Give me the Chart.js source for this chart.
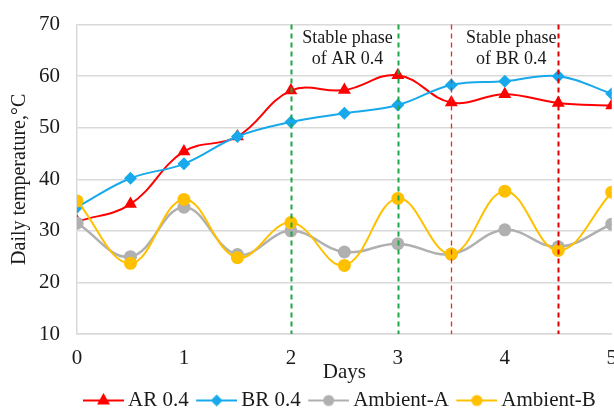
<!DOCTYPE html>
<html>
<head>
<meta charset="utf-8">
<script src="https://cdn.jsdelivr.net/npm/chart.js@4.4.1/dist/chart.umd.min.js"></script>
<style>
html, body { margin: 0; padding: 0; background: #fff; overflow: hidden; }
#wrap { width: 629px; height: 415px; margin-top: -5px; position: relative; }
</style>
</head>
<body>
<div id="wrap"><canvas id="tempChart"></canvas></div>
<script>
// values
var days = [0, 0.5, 1, 1.5, 2, 2.5, 3, 3.5, 4, 4.5, 5];
var ar04 = [31.8, 35.2, 45.4, 48.3, 57.2, 57.3, 60.2, 54.9, 56.5, 54.8, 54.3];
var br04 = [34.6, 40.2, 43.0, 48.3, 51.1, 52.8, 54.4, 58.3, 59.0, 60.0, 56.6];
var ambientA = [31.5, 25.0, 34.6, 25.4, 30.0, 25.9, 27.5, 25.5, 30.2, 26.9, 31.3];
var ambientB = [35.8, 23.7, 36.1, 24.8, 31.6, 23.3, 36.3, 25.5, 37.7, 26.2, 37.5];
var seriesNames = ['AR 0.4', 'BR 0.4', 'Ambient-A', 'Ambient-B'];
var yTicks = [10, 20, 30, 40, 50, 60, 70];
var xTicks = [0, 1, 2, 3, 4, 5];
var phaseLines = [2, 3, 3.5, 4.5];
var phaseLabels = [['Stable phase', 'of AR 0.4'], ['Stable phase', 'of BR 0.4']];

var SERIF = "'Liberation Serif', 'Times New Roman', serif";
var TEXT = '#1a1a1a';
var colors = ['#ff0000', '#17a9ec', '#b0b0b0', '#ffc000'];
var markers = ['triangle', 'rectRot', 'circle', 'circle'];
var radii = [7.5, 6.5, 6.5, 6.5];

function toPoints(values) {
    return days.map(function(d, i) { return { x: d, y: values[i] }; });
}

// legend icon: line with the marker in the middle, sitting in the right part of the image
function legendIcon(color, style) {
    var c = document.createElement('canvas');
    c.width = 55; c.height = 18;
    var g = c.getContext('2d');
    var x0 = 14, x1 = 55, cx = 34.5, cy = 9;
    g.strokeStyle = color; g.lineWidth = 2;
    g.beginPath(); g.moveTo(x0, cy); g.lineTo(x1, cy); g.stroke();
    g.fillStyle = color;
    g.beginPath();
    if (style === 'triangle') {
        g.moveTo(cx, cy - 7.5); g.lineTo(cx + 6.5, cy + 4); g.lineTo(cx - 6.5, cy + 4);
    } else if (style === 'rectRot') {
        g.moveTo(cx, cy - 6); g.lineTo(cx + 6, cy); g.lineTo(cx, cy + 6); g.lineTo(cx - 6, cy);
    } else {
        g.arc(cx, cy, 5.5, 0, Math.PI * 2);
    }
    g.closePath(); g.fill();
    return c;
}

var seriesValues = [ar04, br04, ambientA, ambientB];
var datasets = seriesValues.map(function(vals, i) {
    return {
        label: seriesNames[i],
        data: toPoints(vals),
        borderColor: colors[i],
        backgroundColor: colors[i],
        borderWidth: i === 2 ? 2.5 : 2,
        pointStyle: markers[i],
        pointRadius: radii[i],
        pointBorderWidth: 0,
        tension: 0.4,
        order: 4 - i
    };
});

var phaseStyle = [
    { color: '#1fa54a', width: 2, dash: [5, 4] },
    { color: '#1fa54a', width: 2, dash: [5, 4] },
    { color: '#ff2020', width: 1.3, dash: [5, 4] },
    { color: '#e00000', width: 2, dash: [5, 4] }
];
var phaseLabelPos = [{ x: 2.53, y: [67.4, 63.2] }, { x: 4.06, y: [67.4, 63.2] }];

var phasePlugin = {
    id: 'phases',
    afterDatasetsDraw: function(chart) {
        var ctx = chart.ctx, area = chart.chartArea;
        var xs = chart.scales.x, ys = chart.scales.y;
        phaseLines.forEach(function(d, i) {
            var s = phaseStyle[i];
            var px = Math.round(xs.getPixelForValue(d)) + 0.5;
            ctx.save();
            ctx.strokeStyle = s.color;
            ctx.lineWidth = s.width;
            ctx.setLineDash(s.dash);
            ctx.beginPath();
            ctx.moveTo(px, area.top);
            ctx.lineTo(px, area.bottom);
            ctx.stroke();
            ctx.restore();
        });
        ctx.save();
        ctx.fillStyle = TEXT;
        ctx.font = '18px ' + SERIF;
        ctx.textAlign = 'center';
        ctx.textBaseline = 'middle';
        phaseLabels.forEach(function(lines, i) {
            var p = phaseLabelPos[i];
            lines.forEach(function(t, j) {
                ctx.fillText(t, xs.getPixelForValue(p.x), ys.getPixelForValue(p.y[j]));
            });
        });
        ctx.restore();
    }
};

// Excel puts the legend a bit left of centre and low under the axis title
var legendPlace = {
    id: 'legendPlace',
    afterLayout: function(chart) {
        var lg = chart.legend;
        var w = lg.right - lg.left, h = lg.bottom - lg.top;
        lg.left = 75.5; lg.right = lg.left + w;
        lg.top = 395; lg.bottom = lg.top + h;
    }
};

var ctx = document.getElementById('tempChart').getContext('2d');
var chart = new Chart(ctx, {
    type: 'line',
    data: { datasets: datasets },
    plugins: [phasePlugin, legendPlace],
    options: {
        responsive: true,
        maintainAspectRatio: false,
        animation: false,
        layout: { padding: 0 },
        scales: {
            x: {
                type: 'linear',
                min: 0,
                max: 5,
                afterBuildTicks: function(s) { s.ticks = xTicks.map(function(v) { return { value: v }; }); },
                afterFit: function(s) { s.height = 45; },
                grid: { display: false, drawTicks: false },
                border: { display: true, color: '#d9d9d9', width: 1.5 },
                ticks: { color: TEXT, font: { family: SERIF, size: 21 }, padding: 12 },
                title: { display: true, text: 'Days', color: TEXT, font: { family: SERIF, size: 21 }, padding: { top: 0, bottom: -6.5 } }
            },
            y: {
                min: 10,
                max: 70,
                afterBuildTicks: function(s) { s.ticks = yTicks.map(function(v) { return { value: v }; }); },
                afterFit: function(s) { s.width = 77; },
                grid: { color: '#d9d9d9', lineWidth: 1.5, drawTicks: false },
                border: { display: true, color: '#d9d9d9', width: 1.5 },
                ticks: { color: TEXT, font: { family: SERIF, size: 21 }, padding: 17 },
                title: { display: true, text: 'Daily temperature,°C', color: TEXT, font: { family: SERIF, size: 20 }, padding: { top: 8, bottom: 0 } }
            }
        },
        plugins: {
            tooltip: { enabled: false },
            legend: {
                position: 'bottom',
                align: 'start',
                labels: {
                    usePointStyle: true,
                    pointStyleWidth: 42,
                    padding: 0,
                    color: TEXT,
                    font: { family: SERIF, size: 21 },
                    sort: function(a, b) { return a.datasetIndex - b.datasetIndex; },
                    generateLabels: function(chart) {
                        return chart.data.datasets.map(function(ds, i) {
                            return {
                                text: ds.label,
                                datasetIndex: i,
                                pointStyle: legendIcon(colors[i], markers[i]),
                                fillStyle: colors[i],
                                strokeStyle: colors[i],
                                lineWidth: 0,
                                hidden: false,
                                fontColor: TEXT
                            };
                        });
                    }
                }
            }
        }
    }
});
</script>
</body>
</html>
